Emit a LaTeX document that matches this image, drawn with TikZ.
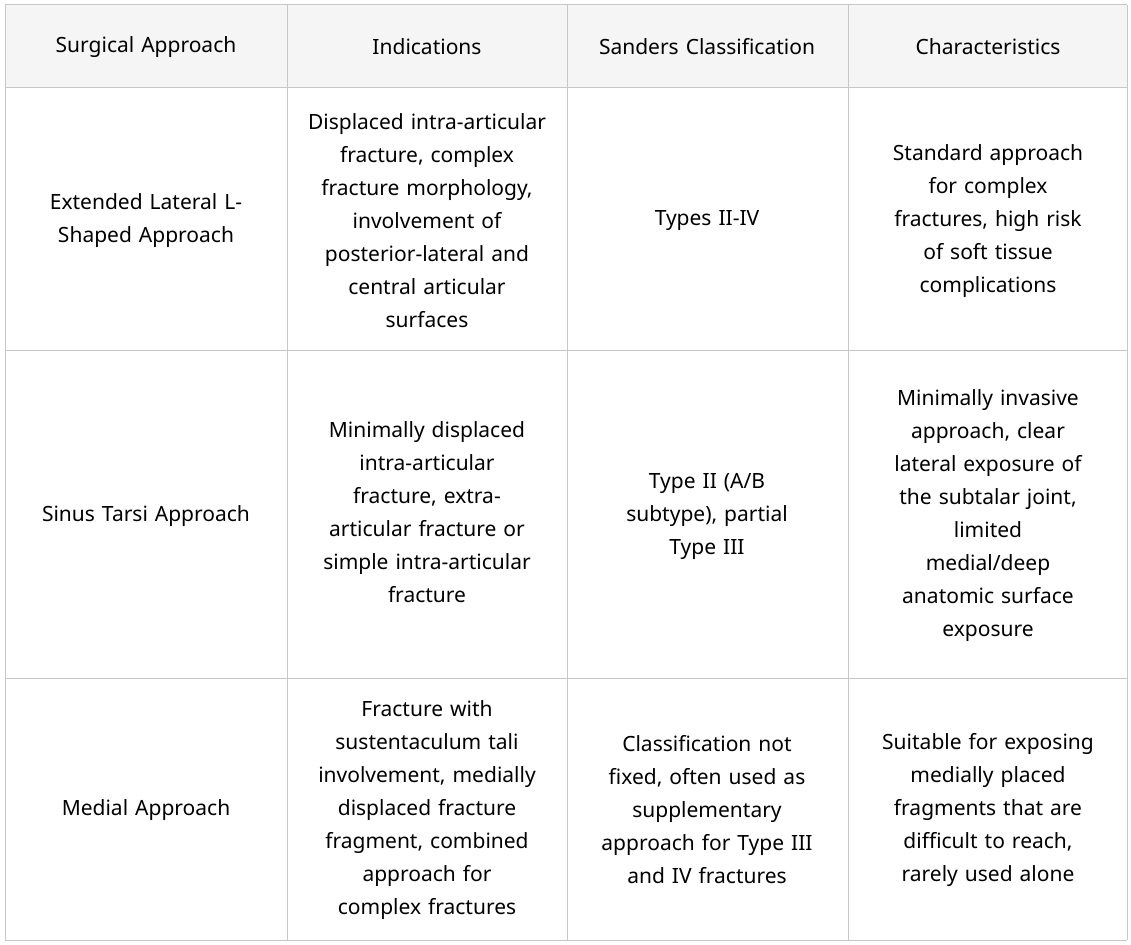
\documentclass[tikz,border=0pt]{standalone}
\usepackage{fontspec}
\setmainfont{Noto Sans}
\begin{document}
\begin{tikzpicture}[x=1pt,y=-1pt,
  cell/.style={align=center,text width=255pt,font=\fontsize{21}{33}\selectfont,inner sep=0pt},
  head/.style={cell,font=\fontsize{21}{33}\selectfont\bfseries},
  grid/.style={draw=black!22,line width=1pt}]
\useasboundingbox (0,0) rectangle (1131,944);
\fill[black!4] (5,5) rectangle (1127,88);
\foreach \x in {5,287,567,848,1127} \draw[grid] (\x,5) -- (\x,940);
\foreach \y in {5,88,350,678,940} \draw[grid] (5,\y) -- (1127,\y);
\node[head] (h1) at (146,47) {Surgical Approach};
\node[head] (h2) at (427,47) {Indications};
\node[head] (h3) at (707,47) {Sanders Classification};
\node[head] (h4) at (988,47) {Characteristics};
\node[cell,text width=230pt] (a1) at (146,221) {Extended Lateral L-\\Shaped Approach};
\node[cell] (b1) at (427,221) {Displaced intra-articular\\fracture, complex\\fracture morphology,\\involvement of\\posterior-lateral and\\central articular\\surfaces};
\node[cell] (c1) at (707,221) {Types II-IV};
\node[cell] (d1) at (988,221) {Standard approach\\for complex\\fractures, high risk\\of soft tissue\\complications};
\node[cell] (a2) at (146,516) {Sinus Tarsi Approach};
\node[cell] (b2) at (427,512) {Minimally displaced\\intra-articular\\fracture, extra-\\articular fracture or\\simple intra-articular\\fracture};
\node[cell] (c2) at (707,516) {Type II (A/B\\subtype), partial\\Type III};
\node[cell] (d2) at (988,516) {Minimally invasive\\approach, clear\\lateral exposure of\\the subtalar joint,\\limited\\medial/deep\\anatomic surface\\exposure};
\node[cell] (a3) at (146,810) {Medial Approach};
\node[cell] (b3) at (427,810) {Fracture with\\sustentaculum tali\\involvement, medially\\displaced fracture\\fragment, combined\\approach for\\complex fractures};
\node[cell] (c3) at (707,810) {Classification not\\fixed, often used as\\supplementary\\approach for Type III\\and IV fractures};
\node[cell] (d3) at (988,810) {Suitable for exposing\\medially placed\\fragments that are\\difficult to reach,\\rarely used alone};
\end{tikzpicture}
\end{document}
